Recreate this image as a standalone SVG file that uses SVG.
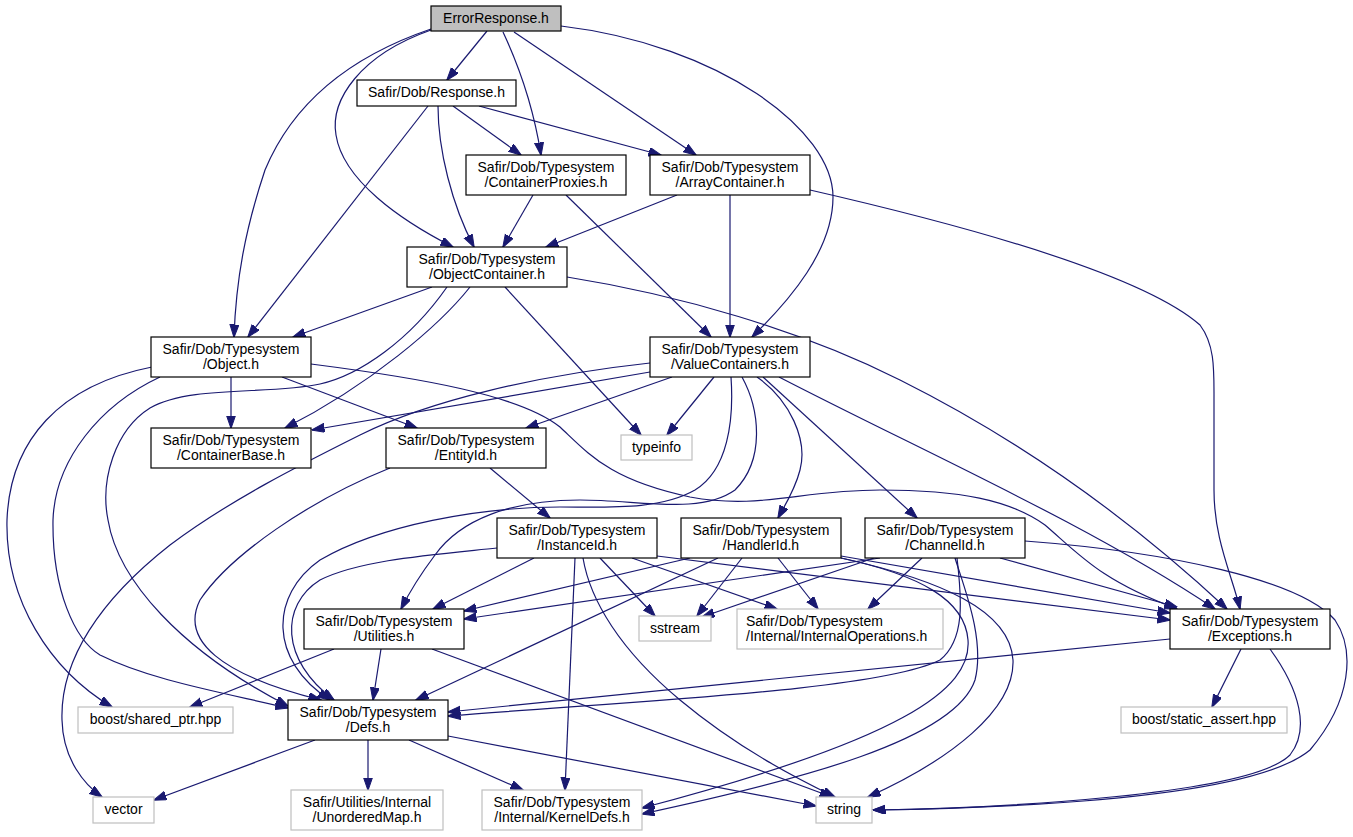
<svg xmlns="http://www.w3.org/2000/svg" width="1353" height="837" viewBox="0 0 1353 837">
<style>
.n rect{fill:#ffffff;stroke:#000000;stroke-width:1.2}
.x rect{fill:#ffffff;stroke:#bfbfbf;stroke-width:1.2}
.root rect{fill:#bfbfbf;stroke:#000000;stroke-width:1.2}
text{font-family:"Liberation Sans",Arial,sans-serif;font-size:14px;fill:#000000;text-anchor:middle}
.e path{fill:none;stroke:#191970;stroke-width:1.2;marker-end:url(#ah)}
</style>
<defs>
<marker id="ah" markerUnits="userSpaceOnUse" markerWidth="13" markerHeight="10" refX="12.5" refY="4.5" orient="auto">
<path d="M0,0 L13,4.5 L0,9 z" fill="#191970" stroke="#191970" stroke-width="1"/>
</marker>
</defs>
<rect width="1353" height="837" fill="#ffffff"/>
<g id="edges" class="e">
<path d="M487,31 L447,80"/>
<path d="M503,32 C518,64 533,104 541,155"/>
<path d="M514,32 L696,155"/>
<path d="M561,26 C720,45 833,130 833,197 C833,250 790,300 752,337"/>
<path d="M431,30 C360,55 330,100 336,135 C343,180 400,220 453,247"/>
<path d="M431,29 C340,60 290,110 265,170 C245,230 236,280 234,337"/>
<path d="M453,106 L521,155"/>
<path d="M479,106 L661,155"/>
<path d="M438,106 C438,150 452,205 474,247"/>
<path d="M428,106 L248,337"/>
<path d="M533,195 L503,247"/>
<path d="M566,195 L711,337"/>
<path d="M677,195 L546,247"/>
<path d="M730,195 L730,337"/>
<path d="M810,190 C1050,245 1160,290 1200,325 C1215,345 1214,370 1214,400 L1214,490 C1214,540 1232,575 1240,609"/>
<path d="M432,287 L293,337"/>
<path d="M470,287 C440,325 370,385 285,428"/>
<path d="M505,287 L641,435"/>
<path d="M447,287 C410,340 360,375 320,384 C270,395 190,385 150,408 C115,430 100,480 108,520 C118,580 180,650 288,706"/>
<path d="M567,277 C680,295 800,330 900,380 C1000,430 1110,500 1227,609"/>
<path d="M152,367 C60,385 10,440 7,520 C5,600 50,670 112,707"/>
<path d="M160,377 C100,405 55,460 53,520 C52,590 75,640 100,655 C150,680 220,692 288,708"/>
<path d="M231,377 L231,428"/>
<path d="M282,377 L417,428"/>
<path d="M311,364 C420,378 520,395 560,427 C590,455 610,480 690,497 C760,510 800,490 880,490 C960,490 1010,500 1045,525 C1080,555 1100,580 1177,609"/>
<path d="M490,468 L550,518"/>
<path d="M390,468 C310,500 230,555 200,600 C180,640 220,675 321,700"/>
<path d="M497,548 C430,555 360,560 320,580 C280,605 280,660 334,700"/>
<path d="M731,377 C734,420 728,470 695,490 C660,510 610,507 560,507 C480,507 380,525 320,560 C270,595 268,660 330,700"/>
<path d="M742,377 C760,410 765,460 735,490 C700,515 640,500 580,500 C510,500 460,520 435,555 C420,575 408,595 401,609"/>
<path d="M650,372 L312,430"/>
<path d="M650,363 C540,375 430,400 360,435 C300,465 230,500 170,545 C100,600 60,660 62,720 C63,760 85,785 102,797"/>
<path d="M672,377 L526,428"/>
<path d="M714,377 L667,435"/>
<path d="M757,377 C790,400 808,440 800,470 C795,490 785,505 778,518"/>
<path d="M763,377 L917,518"/>
<path d="M779,377 C920,450 1090,525 1215,609"/>
<path d="M534,558 L433,609"/>
<path d="M575,558 L565,790"/>
<path d="M583,558 C590,600 620,650 680,700 C740,750 800,780 835,797"/>
<path d="M600,558 L655,616"/>
<path d="M632,558 L777,609"/>
<path d="M657,556 L1170,620"/>
<path d="M690,558 L464,611"/>
<path d="M880,558 L464,619"/>
<path d="M742,558 L697,616"/>
<path d="M778,558 L818,609"/>
<path d="M841,556 L1170,613"/>
<path d="M841,558 C920,575 965,600 968,640 C972,690 900,740 642,808"/>
<path d="M955,558 C965,590 985,640 975,680 C955,740 800,780 642,814"/>
<path d="M841,558 C940,580 1010,610 1013,660 C1015,710 950,760 868,797"/>
<path d="M957,558 C962,600 965,640 940,660 C880,690 650,700 448,716"/>
<path d="M718,558 L416,700"/>
<path d="M874,558 L702,617"/>
<path d="M922,558 L868,609"/>
<path d="M1000,558 L1177,607"/>
<path d="M1025,541 C1170,552 1300,580 1335,620 C1355,650 1352,700 1310,750 C1250,800 1000,808 873,810"/>
<path d="M1270,649 C1300,690 1310,730 1290,755 C1250,795 1000,808 873,810"/>
<path d="M1241,649 L1212,707"/>
<path d="M1170,639 L448,712"/>
<path d="M334,649 L190,707"/>
<path d="M381,649 L373,700"/>
<path d="M432,649 L832,797"/>
<path d="M315,740 L154,800"/>
<path d="M368,740 L368,790"/>
<path d="M409,740 L523,790"/>
<path d="M448,736 L816,806"/>
</g>
<g id="node-errorresponse" class="root"><rect x="431" y="6" width="130" height="25"/><text x="496" y="23">ErrorResponse.h</text></g>
<g id="node-response" class="n"><rect x="357" y="80" width="159" height="26"/><text x="436.5" y="97">Safir/Dob/Response.h</text></g>
<g id="node-containerproxies" class="n"><rect x="466" y="155" width="160" height="40"/><text x="546" y="171.5">Safir/Dob/Typesystem</text><text x="546" y="186.5">/ContainerProxies.h</text></g>
<g id="node-arraycontainer" class="n"><rect x="650" y="155" width="160" height="40"/><text x="730" y="171.5">Safir/Dob/Typesystem</text><text x="730" y="186.5">/ArrayContainer.h</text></g>
<g id="node-objectcontainer" class="n"><rect x="407" y="247" width="160" height="40"/><text x="487" y="263.5">Safir/Dob/Typesystem</text><text x="487" y="278.5">/ObjectContainer.h</text></g>
<g id="node-object" class="n"><rect x="151" y="337" width="160" height="40"/><text x="231" y="353.5">Safir/Dob/Typesystem</text><text x="231" y="368.5">/Object.h</text></g>
<g id="node-valuecontainers" class="n"><rect x="650" y="337" width="160" height="40"/><text x="730" y="353.5">Safir/Dob/Typesystem</text><text x="730" y="368.5">/ValueContainers.h</text></g>
<g id="node-containerbase" class="n"><rect x="151" y="428" width="160" height="40"/><text x="231" y="444.5">Safir/Dob/Typesystem</text><text x="231" y="459.5">/ContainerBase.h</text></g>
<g id="node-entityid" class="n"><rect x="386" y="428" width="160" height="40"/><text x="466" y="444.5">Safir/Dob/Typesystem</text><text x="466" y="459.5">/EntityId.h</text></g>
<g id="node-typeinfo" class="x"><rect x="621" y="435" width="71" height="25"/><text x="656.5" y="452">typeinfo</text></g>
<g id="node-instanceid" class="n"><rect x="497" y="518" width="160" height="40"/><text x="577" y="534.5">Safir/Dob/Typesystem</text><text x="577" y="549.5">/InstanceId.h</text></g>
<g id="node-handlerid" class="n"><rect x="681" y="518" width="160" height="40"/><text x="761" y="534.5">Safir/Dob/Typesystem</text><text x="761" y="549.5">/HandlerId.h</text></g>
<g id="node-channelid" class="n"><rect x="865" y="518" width="160" height="40"/><text x="945" y="534.5">Safir/Dob/Typesystem</text><text x="945" y="549.5">/ChannelId.h</text></g>
<g id="node-utilities" class="n"><rect x="304" y="609" width="160" height="40"/><text x="384" y="625.5">Safir/Dob/Typesystem</text><text x="384" y="640.5">/Utilities.h</text></g>
<g id="node-sstream" class="x"><rect x="639" y="616" width="72" height="25"/><text x="675" y="633">sstream</text></g>
<g id="node-internaloperations" class="x"><rect x="737" y="609" width="206" height="40"/><text x="746" y="625.5" style="text-anchor:start">Safir/Dob/Typesystem</text><text x="746" y="640.5" style="text-anchor:start">/Internal/InternalOperations.h</text></g>
<g id="node-exceptions" class="n"><rect x="1170" y="609" width="160" height="40"/><text x="1250" y="625.5">Safir/Dob/Typesystem</text><text x="1250" y="640.5">/Exceptions.h</text></g>
<g id="node-sharedptr" class="x"><rect x="78" y="707" width="155" height="26"/><text x="155.5" y="724">boost/shared_ptr.hpp</text></g>
<g id="node-defs" class="n"><rect x="288" y="700" width="160" height="40"/><text x="368" y="716.5">Safir/Dob/Typesystem</text><text x="368" y="731.5">/Defs.h</text></g>
<g id="node-staticassert" class="x"><rect x="1121" y="707" width="166" height="26"/><text x="1204" y="724">boost/static_assert.hpp</text></g>
<g id="node-vector" class="x"><rect x="93" y="797" width="61" height="26"/><text x="123.5" y="814">vector</text></g>
<g id="node-unorderedmap" class="x"><rect x="291" y="790" width="152" height="40"/><text x="367" y="806.5">Safir/Utilities/Internal</text><text x="367" y="821.5">/UnorderedMap.h</text></g>
<g id="node-kerneldefs" class="x"><rect x="482" y="790" width="160" height="40"/><text x="562" y="806.5">Safir/Dob/Typesystem</text><text x="562" y="821.5">/Internal/KernelDefs.h</text></g>
<g id="node-string" class="x"><rect x="816" y="797" width="56" height="26"/><text x="844" y="814">string</text></g>
</svg>
